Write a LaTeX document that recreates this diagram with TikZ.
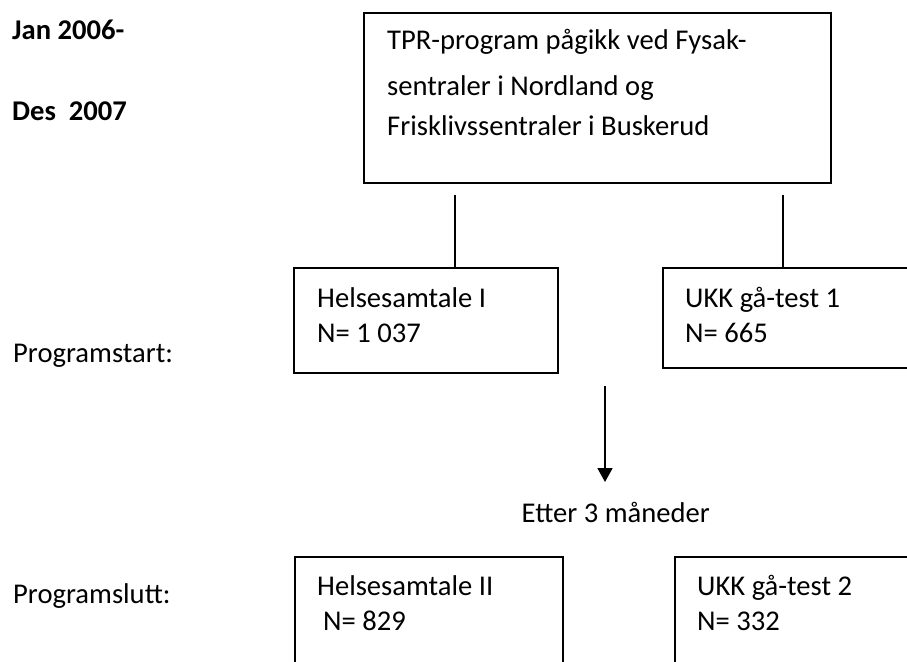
\documentclass[tikz,border=0pt]{standalone}
\usepackage{fontspec}
\setmainfont{Carlito}
\usetikzlibrary{arrows.meta}
\begin{document}
\begin{tikzpicture}[x=1pt,y=-1pt,
  box/.style={draw, line width=1.5pt, inner sep=0pt, rectangle},
  txt/.style={anchor=base west, inner sep=0pt, font=\fontsize{28.6}{34}\selectfont},
  btxt/.style={anchor=base west, inner sep=0pt, font=\fontsize{28.6}{34}\selectfont\bfseries},
  conn/.style={line width=1.8pt}
]
\useasboundingbox (0,0) rectangle (907,661);
\clip (0,0) rectangle (907,661);
\fill[white] (0,0) rectangle (907,661);

% boxes
\node[box, minimum width=467pt, minimum height=170pt] (top) at (597.5,98) {};
\node[box, minimum width=264pt, minimum height=105pt] (h1) at (426,320.5) {};
\node[box, minimum width=337pt, minimum height=100pt] (u1) at (831.5,318) {};
\node[box, minimum width=268pt, minimum height=143pt] (h2) at (429,628.5) {};
\node[box, minimum width=325pt, minimum height=143pt] (u2) at (837.5,628.5) {};

% texts
\node[btxt] (jan) at (12,40) {Jan 2006-};
\node[btxt] (des) at (12,120) {Des\ \ 2007};
\node[txt] (pstart) at (13,362) {Programstart:};
\node[txt] (pslutt) at (13,603) {Programslutt:};

\node[txt] (t1) at (387,50) {TPR-program pågikk ved Fysak-};
\node[txt] (t2) at (387,95) {sentraler i Nordland og};
\node[txt] (t3) at (387,135) {Frisklivssentraler i Buskerud};

\node[txt] (h1a) at (317,307) {Helsesamtale I};
\node[txt] (h1b) at (317,342) {N= 1 037};
\node[txt] (u1a) at (685,307) {UKK gå-test 1};
\node[txt] (u1b) at (685,342) {N= 665};

\node[txt] (h2a) at (317,595) {Helsesamtale II};
\node[txt] (h2b) at (323,630) {N= 829};
\node[txt] (u2a) at (697,595) {UKK gå-test 2};
\node[txt] (u2b) at (697,630) {N= 332};

\node[txt, anchor=base east] (etter) at (710,522) {Etter 3 måneder};

% connectors
\coordinate (c1) at (455,195);
\coordinate (c2) at (783,195);
\draw[conn] (c1) -- (c1 |- h1.north);
\draw[conn] (c2) -- (c2 |- u1.north);
\coordinate (a1) at (605,386);
\coordinate (a2) at (605,482);
\draw[conn, -{Triangle[width=15pt,length=14pt]}] (a1) -- (a2);
\end{tikzpicture}
\end{document}
